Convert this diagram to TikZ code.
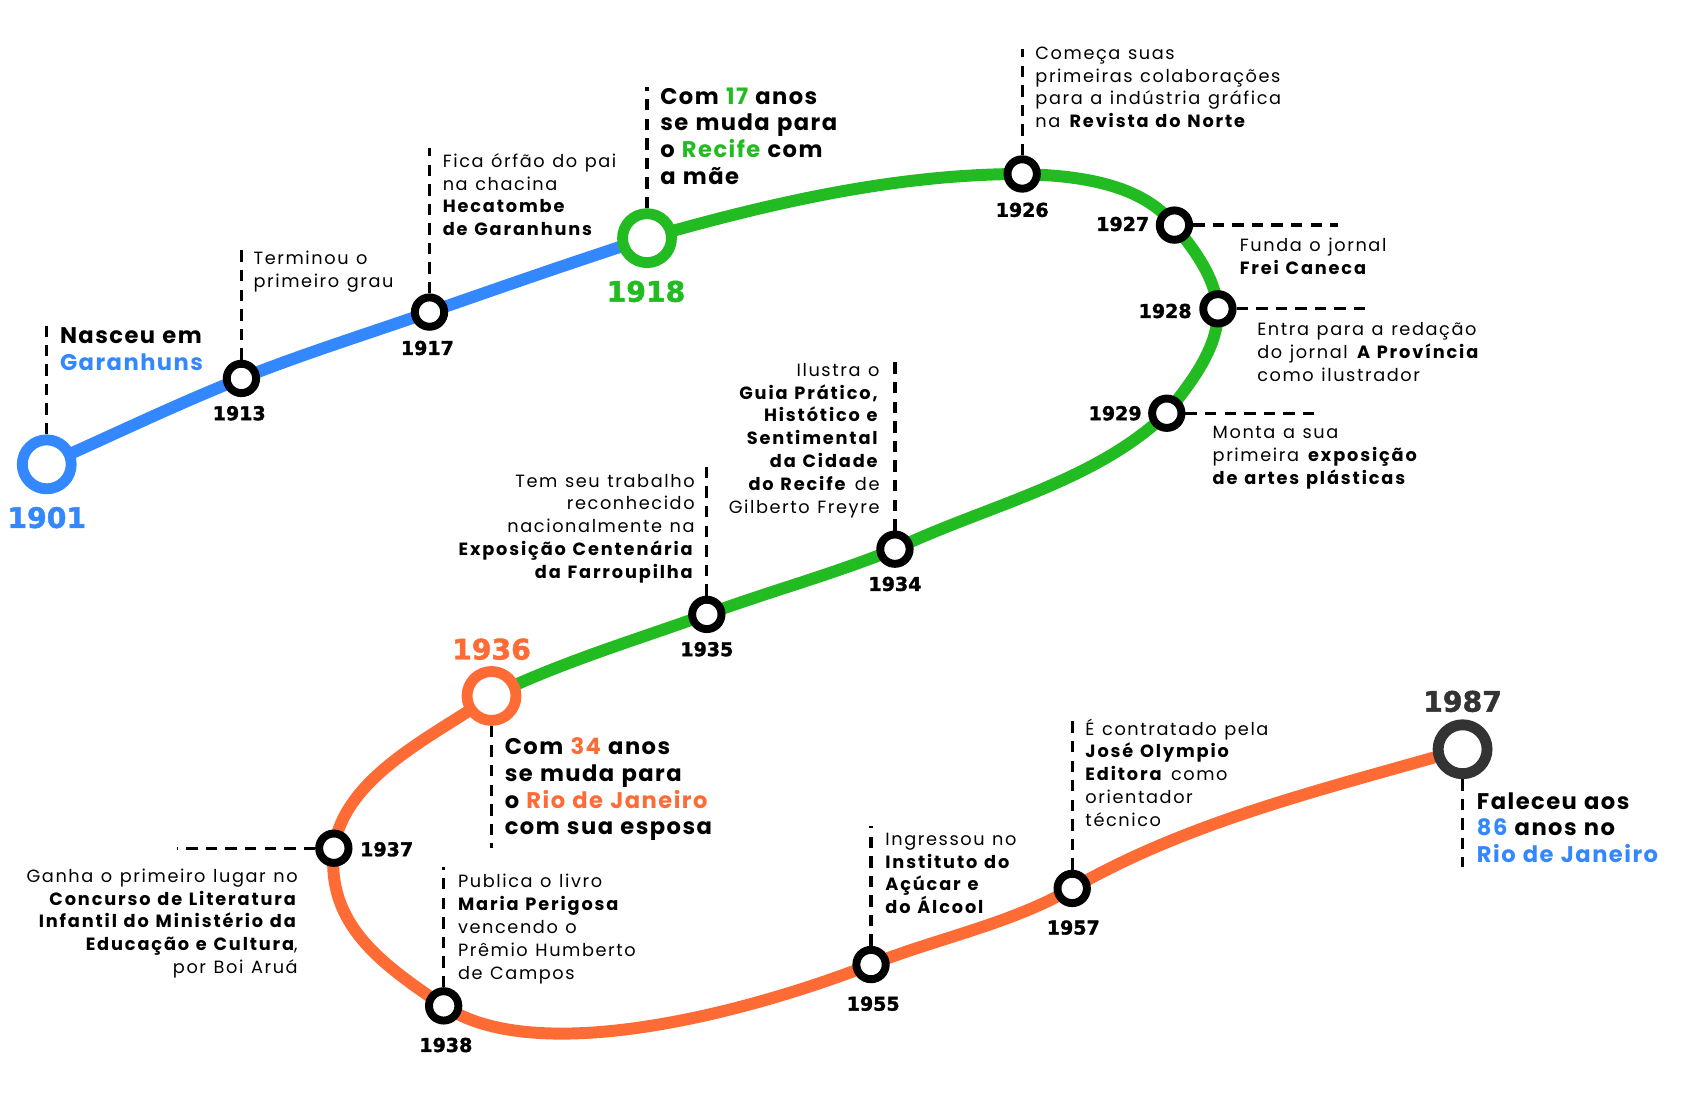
\documentclass[tikz,border=0pt]{standalone}
\usepackage{fontspec}
\setmainfont{Poppins}[WordSpace=1.2,UprightFeatures={LetterSpace=9},BoldFeatures={LetterSpace=10.5}]
\newfontfamily\bigfont{Poppins}[WordSpace=1.15,UprightFeatures={LetterSpace=6.5},BoldFeatures={LetterSpace=6.5}]
\newfontfamily\yearfont{DejaVu Sans}[FakeBold=1.6]
\definecolor{cblue}{HTML}{3388FF}
\definecolor{cgreen}{HTML}{22BB22}
\definecolor{corange}{HTML}{FF6B35}
\definecolor{cdark}{HTML}{333333}
\begin{document}
\begin{tikzpicture}[x=1pt,y=-1pt,
  route/.style={line width=11pt},
  ringbig/.style={circle,line width=10pt,fill=white,minimum size=45pt,inner sep=0},
  ringsmall/.style={circle,draw=black,line width=7.3pt,fill=white,minimum size=27pt,inner sep=0},
  lead/.style={draw=black,line width=3pt,dash pattern=on 10.5pt off 7.5pt},
  txt/.style={font=\fontsize{16.3}{21}\selectfont,align=left,anchor=north west,inner sep=0,execute at begin node=\strut},
  txtr/.style={txt,align=right,anchor=north east},
  bigtxt/.style={font=\bigfont\bfseries\fontsize{20.8}{24.5}\selectfont,align=left,anchor=north west,inner sep=0,execute at begin node=\strut},
  yr/.style={font=\yearfont\bfseries\fontsize{17.5}{17.5}\selectfont,inner sep=0},
  bigyr/.style={font=\yearfont\bfseries\fontsize{26}{26}\selectfont,inner sep=0},
]
\useasboundingbox[fill=white] (0,0) rectangle (1567,1022.6);

% stations
\coordinate (c1901) at (43,427);
\coordinate (c1913) at (222,348);
\coordinate (c1917) at (395,287);
\coordinate (c1918) at (595,219);
\coordinate (c1926) at (940,160);
\coordinate (c1927) at (1080,207);
\coordinate (c1928) at (1120,284);
\coordinate (c1929) at (1073,380);
\coordinate (c1934) at (823,505);
\coordinate (c1935) at (650,565);
\coordinate (c1936) at (452,640);
\coordinate (c1937) at (307,780);
\coordinate (c1938) at (408,925);
\coordinate (c1955) at (801,887);
\coordinate (c1957) at (986,817);
\coordinate (c1987) at (1345,689);

% route
\draw[route,cblue] (c1901) .. controls (102.5,400.7) and (161.5,372) .. (c1913)
  .. controls (278.7,325.4) and (337.4,307.1) .. (c1917)
  .. controls (461,264) and (528,240.6) .. (c1918);
\draw[route,cgreen] (c1918) .. controls (707,187) and (823,160) .. (c1926)
  .. controls (990,161.5) and (1049,168) .. (c1927)
  .. controls (1098.6,230.4) and (1117,254) .. (c1928)
  .. controls (1121,320) and (1095,352) .. (c1929)
  .. controls (1006,444) and (907,465) .. (c1934)
  .. controls (766,528) and (707,544) .. (c1935)
  .. controls (583,589) and (516,609) .. (c1936);
\draw[route,corange] (c1936) .. controls (397,678) and (317,714) .. (c1937)
  .. controls (300,850) and (350,886) .. (c1938)
  .. controls (491,981) and (680,934) .. (c1955)
  .. controls (862.4,862.6) and (928.6,850) .. (c1957)
  .. controls (1096.5,753.5) and (1223,724.6) .. (c1987);

% rings
\node[ringbig,draw=cblue] (n1901) at (c1901) {};
\node[ringsmall] (n1913) at (c1913) {};
\node[ringsmall] (n1917) at (c1917) {};
\node[ringbig,draw=cgreen] (n1918) at (c1918) {};
\node[ringsmall] (n1926) at (c1926) {};
\node[ringsmall] (n1927) at (c1927) {};
\node[ringsmall] (n1928) at (c1928) {};
\node[ringsmall] (n1929) at (c1929) {};
\node[ringsmall] (n1934) at (c1934) {};
\node[ringsmall] (n1935) at (c1935) {};
\node[ringbig,draw=corange] (n1936) at (c1936) {};
\node[ringsmall] (n1937) at (c1937) {};
\node[ringsmall] (n1938) at (c1938) {};
\node[ringsmall] (n1955) at (c1955) {};
\node[ringsmall] (n1957) at (c1957) {};
\node[ringbig,draw=cdark] (n1987) at (c1987) {};

% leader ends
\coordinate (d1901) at (43,300);
\coordinate (d1913) at (222,228);
\coordinate (d1917) at (395,136);
\coordinate (d1918) at (595,80);
\coordinate (d1926) at (940,45);
\coordinate (d1927) at (1230,207);
\coordinate (d1928) at (1260,284);
\coordinate (d1929) at (1212,380);
\coordinate (d1934) at (823,328);
\coordinate (d1935) at (650,425);
\coordinate (d1936) at (452,780);
\coordinate (d1937) at (163,780);
\coordinate (d1938) at (408,797);
\coordinate (d1955) at (801,760);
\coordinate (d1957) at (986,660);
\coordinate (d1987) at (1345,797);

\draw[lead] (n1901.north) -- (d1901);
\draw[lead] (n1913.north) -- (d1913);
\draw[lead] (n1917.north) -- (d1917);
\draw[lead] (n1918.north) -- (d1918);
\draw[lead] (n1926.north) -- (d1926);
\draw[lead] (n1927.east) -- (d1927);
\draw[lead] (n1928.east) -- (d1928);
\draw[lead] (n1929.east) -- (d1929);
\draw[lead] (n1934.north) -- (d1934);
\draw[lead] (n1935.north) -- (d1935);
\draw[lead] (n1936.south) -- (d1936);
\draw[lead] (n1937.west) -- (d1937);
\draw[lead] (n1938.north) -- (d1938);
\draw[lead] (n1955.north) -- (d1955);
\draw[lead] (n1957.north) -- (d1957);
\draw[lead] (n1987.south) -- (d1987);

% years
\node[bigyr,text=cblue] (y1901) at (43,476) {1901};
\node[yr] (y1913) at (220,380) {1913};
\node[yr] (y1917) at (393,320) {1917};
\node[bigyr,text=cgreen] (y1918) at (594,268) {1918};
\node[yr] (y1926) at (940,193) {1926};
\node[yr,anchor=east] (y1927) at (1057,206) {1927};
\node[yr,anchor=east] (y1928) at (1096,286) {1928};
\node[yr,anchor=east] (y1929) at (1050,380) {1929};
\node[yr] (y1934) at (823,537) {1934};
\node[yr] (y1935) at (650,597) {1935};
\node[bigyr,text=corange] (y1936) at (452,597) {1936};
\node[yr,anchor=west] (y1937) at (331,781) {1937};
\node[yr] (y1938) at (410,961) {1938};
\node[yr] (y1955) at (803,923) {1955};
\node[yr] (y1957) at (987,853) {1957};
\node[bigyr,text=cdark] (y1987) at (1345,645) {1987};

% texts
\node[bigtxt] (t1901) at (55,301.5) {Nasceu em\\\textcolor{cblue}{Garanhuns}};
\node[txt] (t1913) at (233,230.7) {Terminou o\\primeiro grau};
\node[txt] (t1917) at (407,140.7) {Fica órfão do pai\\na chacina\\\textbf{Hecatombe}\\\textbf{de Garanhuns}};
\node[bigtxt] (t1918) at (607,80.5) {Com \textcolor{cgreen}{17} anos\\se muda para\\o \textcolor{cgreen}{Recife} com\\a mãe};
\node[txt] (t1926) at (952,42.7) {Começa suas\\primeiras colaborações\\para a indústria gráfica\\na \textbf{Revista do Norte}};
\node[txt] (t1927) at (1140,218.7) {Funda o jornal\\\textbf{Frei Caneca}};
\node[txt] (t1928) at (1156,296.7) {Entra para a redação\\do jornal \textbf{A Província}\\como ilustrador};
\node[txt] (t1929) at (1115,391.7) {Monta a sua\\primeira \textbf{exposição}\\\textbf{de artes plásticas}};
\node[txtr] (t1934) at (809,333.7) {Ilustra o\\\textbf{Guia Prático,}\hspace*{0.45em}\\\textbf{Histótico e}\\\textbf{Sentimental}\\\textbf{da Cidade}\\\textbf{do Recife} de\\Gilberto Freyre};
\node[txtr] (t1935) at (639,435.7) {Tem seu trabalho\\reconhecido\\nacionalmente na\\\textbf{Exposição Centenária}\\\textbf{da Farroupilha}};
\node[bigtxt] (t1936) at (464,678.5) {Com \textcolor{corange}{34} anos\\se muda para\\o \textcolor{corange}{Rio de Janeiro}\\com sua esposa};
\node[txtr] (t1937) at (274,798.7) {Ganha o primeiro lugar no\\\textbf{Concurso de Literatura}\\\textbf{Infantil do Ministério da}\\\textbf{Educação e Cultura},\\por Boi Aruá};
\node[txt] (t1938) at (421,803.7) {Publica o livro\\\textbf{Maria Perigosa}\\vencendo o\\Prêmio Humberto\\de Campos};
\node[txt] (t1955) at (814,765.7) {Ingressou no\\\textbf{Instituto do}\\\textbf{Açúcar e}\\\textbf{do Álcool}};
\node[txt] (t1957) at (998,660.7) {É contratado pela\\\textbf{José Olympio}\\\textbf{Editora} como\\orientador\\técnico};
\node[bigtxt] (t1987) at (1358,728.5) {Faleceu aos\\\textcolor{cblue}{86} anos no\\\textcolor{cblue}{Rio de Janeiro}};
\end{tikzpicture}
\end{document}
